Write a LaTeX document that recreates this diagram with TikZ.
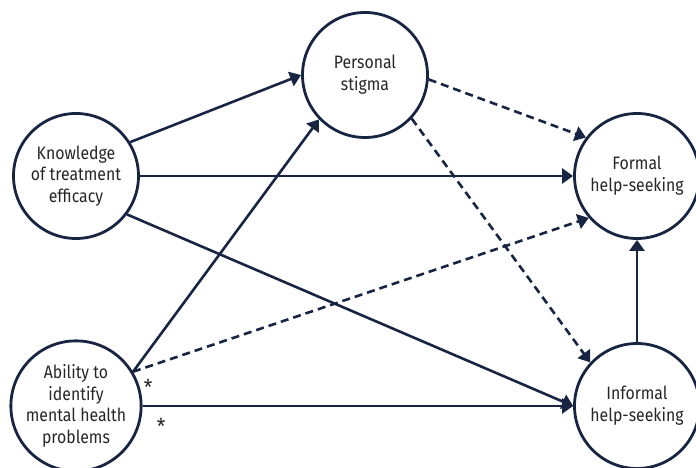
\documentclass[tikz,border=0pt]{standalone}
\usepackage{fontspec}
\setmainfont{Fira Sans}[FakeStretch=0.88]
\usetikzlibrary{arrows.meta}
\definecolor{navy}{RGB}{24,37,66}
\tikzset{
    %Define standard arrow tip
    >={Triangle[length=11pt,width=15pt]},
    %Define style for circles
    sirkel/.style={
           circle,
           draw=navy,
           line width=2.8pt,
           minimum size=125pt,
           inner sep=0pt,
           align=center,
           text=black!85,
           font=\fontsize{18}{21.7}\selectfont},
    % Define arrow styles
    strek/.style={
           ->,
           draw=navy,
           line width=2.6pt},
    stiplet/.style={
           strek,
           dash pattern=on 8pt off 5pt},
    % Define style for the stars
    stjerne/.style={
           inner sep=0pt,
           text=black!85,
           font=\fontsize{22}{22}\selectfont}
}

\begin{document}
\begin{tikzpicture}[x=1pt,y=1pt]
  \useasboundingbox (0,0) rectangle (696,468);
  \node[sirkel] (know) at (76,292) {Knowledge\\of treatment\\efficacy};
  \node[sirkel] (abil) at (76,62) {Ability to\\identify\\mental health\\problems};
  \node[sirkel] (stigma) at (365,393) {Personal\\stigma};
  \node[sirkel] (formal) at (637,292) {Formal\\help-seeking};
  \node[sirkel] (inf) at (637,62) {Informal\\help-seeking};
  % solid paths
  \draw[strek] (know.32) -- (stigma.west);
  \draw[strek] (know.east) -- (formal.west);
  \draw[strek] (know.-37) -- (inf.west);
  \draw[strek] (abil.31) -- (stigma.224);
  \draw[strek] (abil.east) -- (inf.west);
  \draw[strek] (inf.north) -- (formal.south);
  % dashed paths
  \draw[stiplet] (stigma.-4) -- (formal.143);
  \draw[stiplet] (stigma.-43) -- (inf.137);
  \draw[stiplet] (abil.31) -- (formal.221);
  % stars
  \node[stjerne] (s1) at (148,81) {*};
  \node[stjerne] (s2) at (161,42) {*};
\end{tikzpicture}
\end{document}
